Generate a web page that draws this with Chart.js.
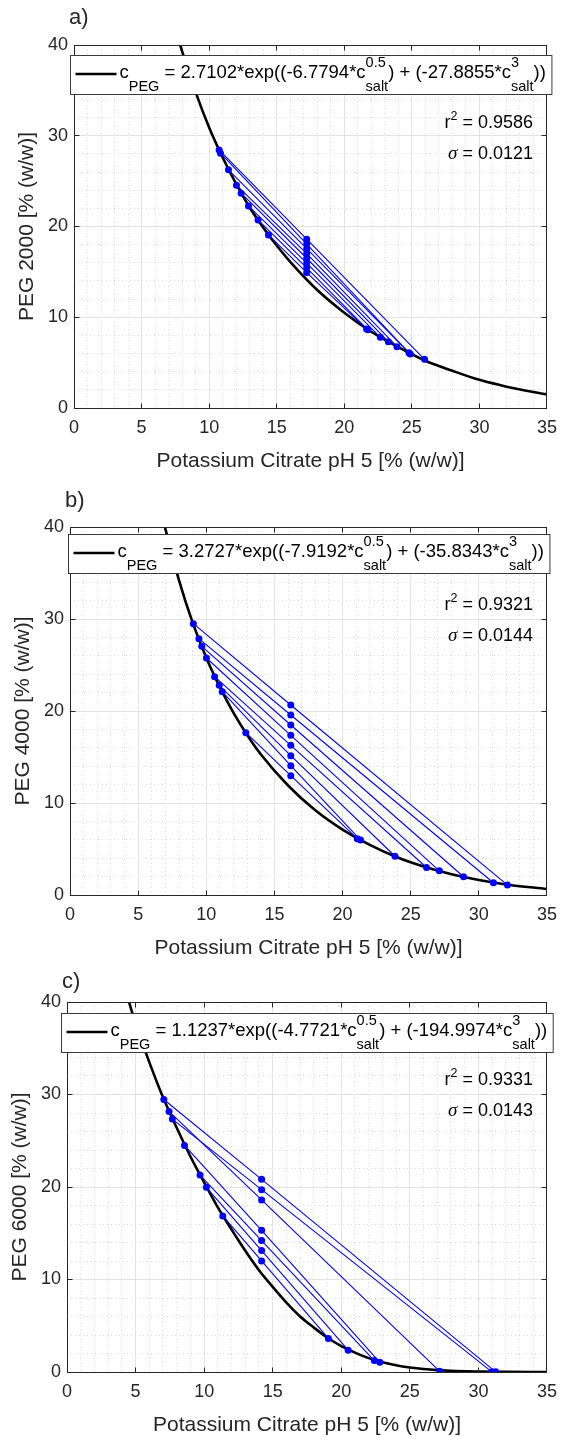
<!DOCTYPE html>
<html>
<head>
<meta charset="utf-8">
<title>PEG / potassium citrate binodals</title>
<script src="https://cdn.jsdelivr.net/npm/chart.js@4.4.1/dist/chart.umd.min.js"></script>
<style>
  html, body { margin: 0; padding: 0; background: #ffffff; }
  body { width: 566px; height: 1437px; overflow: hidden; }
  canvas { display: block; }
</style>
</head>
<body>
<canvas id="chart-a" width="566" height="480"></canvas>
<canvas id="chart-b" width="566" height="485"></canvas>
<canvas id="chart-c" width="566" height="472"></canvas>
<script>
// shared axes
var xTicks = [0, 5, 10, 15, 20, 25, 30, 35];
var yTicks = [0, 10, 20, 30, 40];
var xTitle = 'Potassium Citrate pH 5 [% (w/w)]';
var yTitles = ['PEG 2000 [% (w/w)]', 'PEG 4000 [% (w/w)]', 'PEG 6000 [% (w/w)]'];
var panelNames = ['a)', 'b)', 'c)'];

// fit parameters (legend + annotation)
var fitA = [2.7102, 3.2727, 1.1237];
var fitB = [-6.7794, -7.9192, -4.7721];
var fitC = [-27.8855, -35.8343, -194.9974];
var fitR2 = [0.9586, 0.9321, 0.9331];
var fitSigma = [0.0121, 0.0144, 0.0143];

// a) PEG 2000 - binodal
var aCurveX = [7, 8, 9, 10, 11, 12, 13, 14, 15, 16, 18, 20, 22, 24, 26, 28, 30, 32, 35];
var aCurveY = [44.6, 39.3, 34.8, 30.9, 27.6, 24.7, 22.1, 19.9, 17.9, 16.1, 13.0, 10.5, 8.4, 6.7, 5.2, 4.1, 3.1, 2.35, 1.5];
// a) tie lines: top phase, feed, bottom phase
var aTopX = [10.74, 10.84, 11.43, 12.02, 12.37, 12.91, 13.62, 14.39];
var aTopY = [28.44, 28.08, 26.24, 24.55, 23.67, 22.27, 20.73, 19.07];
var aFeedX = 17.22;
var aFeedY = [18.60, 18.07, 17.55, 17.02, 16.50, 15.97, 15.45, 14.92];
var aBotX = [25.94, 24.88, 24.78, 23.9, 23.26, 22.67, 21.75, 21.65];
var aBotY = [5.37, 5.95, 6.10, 6.76, 7.31, 7.79, 8.62, 8.70];

// b) PEG 4000
var bCurveX = [6.5, 7, 8, 9, 10, 11, 12, 13, 14, 16, 18, 20, 22, 24, 26, 28, 30, 32, 35];
var bCurveY = [43.0, 39.8, 34.2, 29.6, 25.8, 22.6, 19.8, 17.4, 15.3, 11.9, 9.2, 7.1, 5.45, 4.1, 3.07, 2.26, 1.63, 1.15, 0.65];
var bTopX = [9.05, 9.46, 9.67, 10.01, 10.61, 10.95, 11.17, 12.90];
var bTopY = [29.49, 27.86, 27.03, 25.76, 23.73, 22.79, 22.10, 17.64];
var bFeedX = 16.2;
var bFeedY = [20.65, 19.57, 18.48, 17.36, 16.27, 15.14, 14.06, 12.97];
var bBotX = [32.1, 31.07, 28.88, 27.1, 26.16, 23.85, 21.32, 21.08];
var bBotY = [1.08, 1.33, 1.98, 2.63, 2.99, 4.21, 5.97, 6.12];

// c) PEG 6000
var cCurveX = [4, 4.5, 5, 6, 7, 8, 9, 10, 11, 12, 13, 14, 15, 16, 17, 18, 19, 20, 21, 22, 23, 24, 25, 26, 28, 30, 32, 35];
var cCurveY = [42.7, 40.1, 37.7, 33.5, 29.7, 26.4, 23.3, 20.5, 17.8, 15.4, 13.1, 11.0, 9.2, 7.5, 6.0, 4.8, 3.7, 2.8, 2.1, 1.5, 1.06, 0.73, 0.49, 0.32, 0.12, 0.04, 0.01, 0];
var cTopX = [7.06, 7.68, 7.44, 8.57, 9.70, 10.16, 11.36];
var cTopY = [29.46, 27.34, 28.17, 24.50, 21.29, 19.96, 16.87];
var cFeedX = 14.19;
var cFeedY = [20.83, 19.71, 18.60, 15.32, 14.21, 13.13, 12.01];
var cBotX = [31.26, 30.98, 27.18, 22.81, 22.41, 20.5, 19.06];
var cBotY = [0.02, 0.02, 0.07, 1.05, 1.24, 2.36, 3.63];

var FONT = '"Liberation Sans", Arial, Helvetica, sans-serif';
var INK = '#262626';

// plot box of each panel, in canvas pixels
var layouts = [
    { canvas: 'chart-a', left: 74, right: 548, top: 45, bottom: 408, nameY: 18, yTitleX: 27, legendTop: 9.5 },
    { canvas: 'chart-b', left: 70, right: 554, top: 47, bottom: 415, nameY: 21, yTitleX: 23, legendTop: 6.5 },
    { canvas: 'chart-c', left: 67, right: 553, top: 37, bottom: 407, nameY: 17, yTitleX: 20, legendTop: 11 }
];

function crisp(p) { return Math.round(p - 0.5) + 0.5; }

function drawLegend(ctx, area, i, top) {
    var big = '18.5px ' + FONT, small = '14.5px ' + FONT;
    var segs = [
        ['m', 'c'], ['s', 'PEG'],
        ['m', ' = ' + fitA[i].toFixed(4) + '*exp((' + fitB[i].toFixed(4) + '*c'],
        ['st', '0.5', 'salt'],
        ['m', ') + (' + fitC[i].toFixed(4) + '*c'],
        ['st', '3', 'salt'],
        ['m', '))']
    ];
    var widths = segs.map(function (s) {
        if (s[0] === 'm') { ctx.font = big; return ctx.measureText(s[1]).width; }
        ctx.font = small;
        if (s[0] === 's') return ctx.measureText(s[1]).width;
        return Math.max(ctx.measureText(s[1]).width, ctx.measureText(s[2]).width);
    });
    var textW = widths.reduce(function (p, w) { return p + w; }, 0);
    var boxW = 49 + textW + 6, boxH = 39;
    var cx = (area.left + area.right) / 2;
    var bx = Math.round(cx - boxW / 2) + 0.5, by = Math.round(top) + 0.5;
    ctx.fillStyle = '#ffffff';
    ctx.fillRect(bx, by, boxW, boxH);
    ctx.strokeStyle = '#3a3a3a';
    ctx.lineWidth = 1;
    ctx.strokeRect(bx, by, boxW, boxH);
    ctx.strokeStyle = '#000000';
    ctx.lineWidth = 2.6;
    ctx.beginPath();
    ctx.moveTo(bx + 5, by + 18.5);
    ctx.lineTo(bx + 46, by + 18.5);
    ctx.stroke();
    var base = by + 22, x = bx + 49;
    ctx.fillStyle = '#000000';
    ctx.textAlign = 'left';
    ctx.textBaseline = 'alphabetic';
    segs.forEach(function (s, k) {
        if (s[0] === 'm') { ctx.font = big; ctx.fillText(s[1], x, base); }
        else if (s[0] === 's') { ctx.font = small; ctx.fillText(s[1], x, base + 13); }
        else { ctx.font = small; ctx.fillText(s[1], x, base - 10.5); ctx.fillText(s[2], x, base + 13); }
        x += widths[k];
    });
}

function drawStats(ctx, area, i) {
    var big = '18px ' + FONT, small = '12.5px ' + FONT;
    var right = area.right - 14;
    var y1 = area.top + 83, y2 = area.top + 114;
    ctx.fillStyle = '#000000';
    ctx.textAlign = 'left';
    ctx.textBaseline = 'alphabetic';
    var t1 = ' = ' + fitR2[i].toFixed(4);
    ctx.font = big;
    var wr = ctx.measureText('r').width, wt = ctx.measureText(t1).width;
    ctx.font = small;
    var w2 = ctx.measureText('2').width;
    var x = right - wr - w2 - wt;
    ctx.font = big; ctx.fillText('r', x, y1);
    ctx.font = small; ctx.fillText('2', x + wr, y1 - 8);
    ctx.font = big; ctx.fillText(t1, x + wr + w2, y1);

    var t2 = ' = ' + fitSigma[i].toFixed(4);
    var sig = 'italic 19px "Liberation Serif", "Times New Roman", serif';
    ctx.font = sig;
    var ws = ctx.measureText('\u03c3').width;
    ctx.font = big;
    var wt2 = ctx.measureText(t2).width;
    x = right - ws - wt2;
    ctx.font = sig; ctx.fillText('\u03c3', x, y2);
    ctx.font = big; ctx.fillText(t2, x + ws, y2);
}

function decorPlugin(i) {
    var L = layouts[i];
    return {
        id: 'decor',
        beforeDatasetsDraw: function (chart) {
            var ctx = chart.ctx, a = chart.chartArea, xs = chart.scales.x, ys = chart.scales.y;
            ctx.save();
            ctx.strokeStyle = '#d9d9d9';
            ctx.lineWidth = 1;
            ctx.setLineDash([1, 3]);
            ctx.beginPath();
            for (var v = xs.min + 1; v < xs.max; v += 1) {
                if (v % 5 === 0) continue;
                var px = crisp(xs.getPixelForValue(v));
                ctx.moveTo(px, a.top); ctx.lineTo(px, a.bottom);
            }
            for (v = ys.min + 2; v < ys.max; v += 2) {
                if (v % 10 === 0) continue;
                var py = crisp(ys.getPixelForValue(v));
                ctx.moveTo(a.left, py); ctx.lineTo(a.right, py);
            }
            ctx.stroke();
            ctx.restore();
        },
        afterDatasetsDraw: function (chart) {
            var ctx = chart.ctx, a = chart.chartArea, xs = chart.scales.x, ys = chart.scales.y;
            var l = crisp(a.left), r = crisp(a.right), t = crisp(a.top), b = crisp(a.bottom);
            ctx.save();
            ctx.strokeStyle = INK;
            ctx.lineWidth = 1;
            ctx.strokeRect(l, t, r - l, b - t);
            ctx.beginPath();
            xTicks.forEach(function (v) {
                var px = crisp(xs.getPixelForValue(v));
                ctx.moveTo(px, b); ctx.lineTo(px, b - 5);
                ctx.moveTo(px, t); ctx.lineTo(px, t + 5);
            });
            yTicks.forEach(function (v) {
                var py = crisp(ys.getPixelForValue(v));
                ctx.moveTo(l, py); ctx.lineTo(l + 5, py);
                ctx.moveTo(r, py); ctx.lineTo(r - 5, py);
            });
            ctx.stroke();
            ctx.restore();
        },
        afterDraw: function (chart) {
            var ctx = chart.ctx, a = chart.chartArea;
            ctx.save();
            drawLegend(ctx, a, i, a.top + L.legendTop);
            drawStats(ctx, a, i);
            ctx.fillStyle = INK;
            ctx.font = '22px ' + FONT;
            ctx.textAlign = 'left';
            ctx.textBaseline = 'middle';
            ctx.fillText(panelNames[i], a.left - 5, L.nameY);
            ctx.restore();
        }
    };
}

function makeChart(i, curveX, curveY, topX, topY, feedX, feedY, botX, botY) {
    var L = layouts[i];
    var canvas = document.getElementById(L.canvas);
    var W = canvas.width, H = canvas.height;

    var datasets = topX.map(function (tx, k) {
        return {
            data: [{ x: tx, y: topY[k] }, { x: feedX, y: feedY[k] }, { x: botX[k], y: botY[k] }],
            showLine: true,
            borderColor: '#0000ff',
            backgroundColor: '#0000ff',
            borderWidth: 1.1,
            pointRadius: 3.5,
            pointBorderWidth: 0,
            pointHoverRadius: 3.5,
            order: 0
        };
    });
    datasets.push({
        data: curveX.map(function (x, k) { return { x: x, y: curveY[k] }; }),
        showLine: true,
        borderColor: '#000000',
        borderWidth: 2.6,
        pointRadius: 0,
        cubicInterpolationMode: 'monotone',
        clip: 0,
        order: 1
    });

    return new Chart(canvas.getContext('2d'), {
        type: 'scatter',
        data: { datasets: datasets },
        options: {
            responsive: false,
            animation: false,
            events: [],
            layout: { padding: { left: 0, right: W - L.right, top: L.top, bottom: 0 } },
            plugins: { legend: { display: false }, tooltip: { enabled: false } },
            scales: {
                x: {
                    type: 'linear', min: xTicks[0], max: xTicks[xTicks.length - 1],
                    afterBuildTicks: function (s) { s.ticks = xTicks.map(function (v) { return { value: v }; }); },
                    afterFit: function (s) { s.height = H - L.bottom; },
                    grid: { color: '#e3e3e3', lineWidth: 1, drawTicks: false },
                    border: { display: false },
                    ticks: { color: INK, font: { family: FONT, size: 18 }, padding: 9, maxRotation: 0, autoSkip: false,
                             callback: function (v) { return String(v); } },
                    title: { display: true, text: xTitle, color: INK, font: { family: FONT, size: 21 },
                             padding: { top: 0, bottom: H - L.bottom - 53 - 12.6 } }
                },
                y: {
                    type: 'linear', min: yTicks[0], max: yTicks[yTicks.length - 1],
                    afterBuildTicks: function (s) { s.ticks = yTicks.map(function (v) { return { value: v }; }); },
                    afterFit: function (s) { s.width = L.left; },
                    grid: { color: '#e3e3e3', lineWidth: 1, drawTicks: false },
                    border: { display: false },
                    ticks: { color: INK, font: { family: FONT, size: 18 }, padding: 6, autoSkip: false,
                             callback: function (v) { return String(v); } },
                    title: { display: true, text: yTitles[i], color: INK, font: { family: FONT, size: 21 },
                             padding: { top: L.yTitleX - 12.6, bottom: 0 } }
                }
            }
        },
        plugins: [decorPlugin(i)]
    });
}

makeChart(0, aCurveX, aCurveY, aTopX, aTopY, aFeedX, aFeedY, aBotX, aBotY);
makeChart(1, bCurveX, bCurveY, bTopX, bTopY, bFeedX, bFeedY, bBotX, bBotY);
makeChart(2, cCurveX, cCurveY, cTopX, cTopY, cFeedX, cFeedY, cBotX, cBotY);
</script>
</body>
</html>
